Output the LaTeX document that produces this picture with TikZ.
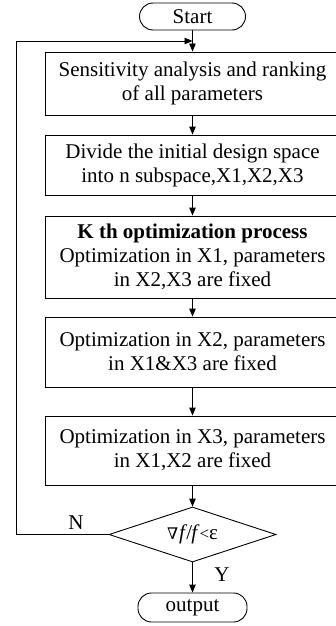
\documentclass[tikz,border=0pt]{standalone}
\usepackage{fontspec}
\setmainfont{Liberation Serif}
\newfontfamily\symfont{DejaVu Serif}
\usetikzlibrary{shapes.geometric,arrows.meta}
\begin{document}
\begin{tikzpicture}[x=1pt,y=1pt,
  font=\fontsize{21}{24}\selectfont,
  line width=0.9pt,
  arr/.style={-{Triangle[length=8pt,width=6.5pt]}},
  term/.style={draw,rectangle,rounded corners=13.5pt,inner sep=0pt,minimum width=106pt,minimum height=27pt},
  proc/.style={draw,rectangle,inner sep=0pt,minimum width=295pt,align=center},
  dec/.style={draw,diamond,aspect=3,inner sep=0pt,minimum width=167pt,minimum height=55pt}]
\useasboundingbox (0,0) rectangle (335,-626);

\node[term] (start) at (192.5,-16.5) {Start};
\node[proc,minimum height=63pt] (b1) at (192.5,-83.5) {Sensitivity analysis and ranking\\of all parameters};
\node[proc,minimum height=60pt] (b2) at (192.5,-165) {Divide the initial design space\\into n subspace,X1,X2,X3};
\node[proc,minimum height=82pt] (b3) at (192.5,-257) {\textbf{K th optimization process}\\Optimization in X1, parameters\\in X2,X3 are fixed};
\node[proc,minimum height=70pt] (b4) at (192.5,-352) {Optimization in X2, parameters\\in X1\&X3 are fixed};
\node[proc,minimum height=69pt] (b5) at (192.5,-450.5) {Optimization in X3, parameters\\in X1,X2 are fixed};
\node[dec] (d) at (192.5,-534.5) {{\symfont\fontsize{16}{18}\selectfont ∇}\kern1pt\textit{f}\kern-1pt/\kern-1pt\textit{f}{\fontsize{17}{18}\selectfont <}ε};
\node[term,minimum width=109pt,minimum height=29pt] (out) at (192.5,-607.5) {output};

\coordinate (loopA) at (16,-534.5);
\coordinate (loopB) at (16,-41);
\coordinate (loopC) at (192.5,-41);

\draw[arr] (start) -- (b1);
\draw[arr] (b1) -- (b2);
\draw[arr] (b2) -- (b3);
\draw[arr] (b3) -- (b4);
\draw[arr] (b4) -- (b5);
\draw[arr] (b5) -- (d);
\draw[arr] (d) -- (out);
\draw[arr] (d.west) -- (loopA) -- (loopB) -- (loopC);

\node (nlab) at (76,-523) {N};
\node (ylab) at (222,-575) {Y};
\end{tikzpicture}
\end{document}
